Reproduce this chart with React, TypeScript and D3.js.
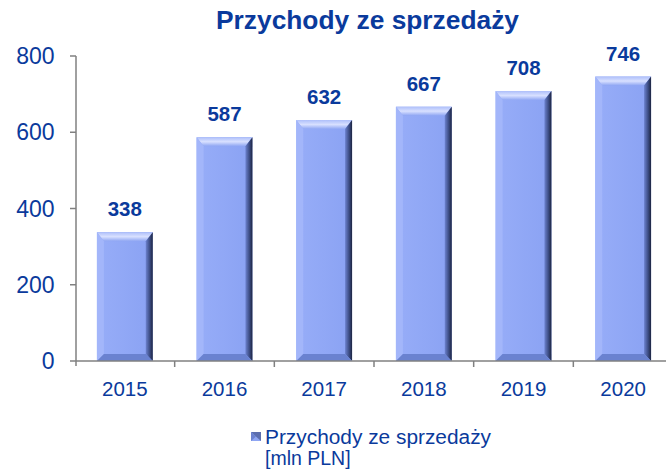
import React from "react";
import * as d3 from "d3";

const categories = ["2015", "2016", "2017", "2018", "2019", "2020"];
const values = [338, 587, 632, 667, 708, 746];
const yTicks = [0, 200, 400, 600, 800];
const title = "Przychody ze sprzedaży";
const legendLines = ["Przychody ze sprzedaży", "[mln PLN]"];

const W = 666;
const H = 472;
const C = "#0a3a9c";

export default function App() {
  const x = d3.scaleBand().domain(categories).range([75, 673]).paddingInner(0.44).paddingOuter(0.22);
  const y = d3.scaleLinear().domain([0, 800]).range([361, 56]);
  const bw = x.bandwidth();
  const step = x.step();
  const font = "'Liberation Sans', Arial, sans-serif";
  return (
    <div style={{ position: "absolute", left: 0, top: 0 }}>
      <svg width={W} height={H} style={{ display: "block" }}>
        <defs>
          <linearGradient id="topG" x1="0" y1="0" x2="0" y2="1">
            <stop offset="0" stopColor="#aebffa" />
            <stop offset="0.5" stopColor="#d8e0ff" />
            <stop offset="1" stopColor="#8fa6f3" />
          </linearGradient>
          <linearGradient id="rightG" x1="0" y1="0" x2="1" y2="0">
            <stop offset="0" stopColor="#6c82cf" />
            <stop offset="0.6" stopColor="#3a4a80" />
            <stop offset="1" stopColor="#1c2440" />
          </linearGradient>
          <linearGradient id="faceG" x1="0" y1="0" x2="1" y2="0">
            <stop offset="0" stopColor="#97adf8" />
            <stop offset="1" stopColor="#8aa2f3" />
          </linearGradient>
        </defs>
        <text x={367.5} y={29} textAnchor="middle" fontFamily={font} fontWeight="bold" fontSize={25} fill={C}
          textLength={303} lengthAdjust="spacingAndGlyphs">
          {title}
        </text>
        {/* y axis */}
        <line x1={76} x2={76} y1={y(800)} y2={y(0) + 5} stroke="#808080" strokeWidth={1.5} />
        {yTicks.map((t) => (
          <g key={t}>
            <line x1={70} x2={76} y1={y(t)} y2={y(t)} stroke="#808080" strokeWidth={1.5} />
            <text x={54.5} y={y(t) + 8} textAnchor="end" fontFamily={font} fontSize={23} fill={C}>
              {t}
            </text>
          </g>
        ))}
        {/* bars */}
        {categories.map((c, i) => {
          const x0 = x(c)!;
          const x1 = x0 + bw;
          const y0 = y(values[i]);
          const y1 = y(0);
          const b = 7;
          const bt = 9;
          return (
            <g key={c}>
              <rect x={x0} y={y0} width={bw} height={y1 - y0} fill="url(#faceG)" />
              <polygon points={`${x0},${y0} ${x1},${y0} ${x1 - b},${y0 + bt} ${x0 + b},${y0 + bt}`} fill="url(#topG)" />
              <polygon points={`${x1},${y0} ${x1},${y1} ${x1 - b},${y1 - b} ${x1 - b},${y0 + bt}`} fill="url(#rightG)" />
              <polygon points={`${x0},${y0} ${x0 + b},${y0 + bt} ${x0 + b},${y1 - b} ${x0},${y1}`} fill="#a3b6fa" />
              <polygon points={`${x0},${y1} ${x0 + b},${y1 - b} ${x1 - b},${y1 - b} ${x1},${y1}`} fill="#6a82d0" />
              <text x={x0 + bw / 2} y={y0 - 16} textAnchor="middle" fontFamily={font} fontWeight="bold" fontSize={20.5} fill={C}>
                {values[i]}
              </text>
            </g>
          );
        })}
        {/* x axis */}
        <line x1={76} x2={W} y1={y(0)} y2={y(0)} stroke="#808080" strokeWidth={1.5} />
        {categories.slice(1).map((c) => (
          <line key={c} x1={x(c)! - (step - bw) / 2} x2={x(c)! - (step - bw) / 2} y1={y(0)} y2={y(0) + 6} stroke="#808080" strokeWidth={1.5} />
        ))}
        {categories.map((c) => (
          <text key={c} x={x(c)! + bw / 2} y={396} textAnchor="middle" fontFamily={font} fontSize={20.5} fill={C}>
            {c}
          </text>
        ))}
        {/* legend */}
        <g>
          <rect x={251} y={432} width={10} height={9} fill="#8fa6f3" />
          <polygon points="251,432 261,441 261,432" fill="#3a4a80" opacity={0.6} />
          <polygon points="251,432 256,436.5 251,441" fill="#6c82cf" />
          <text x={265} y={444} fontFamily={font} fontSize={19.5} fill={C} textLength={226} lengthAdjust="spacingAndGlyphs">
            {legendLines[0]}
          </text>
          <text x={265} y={465} fontFamily={font} fontSize={19.5} fill={C}>
            {legendLines[1]}
          </text>
        </g>
      </svg>
    </div>
  );
}
